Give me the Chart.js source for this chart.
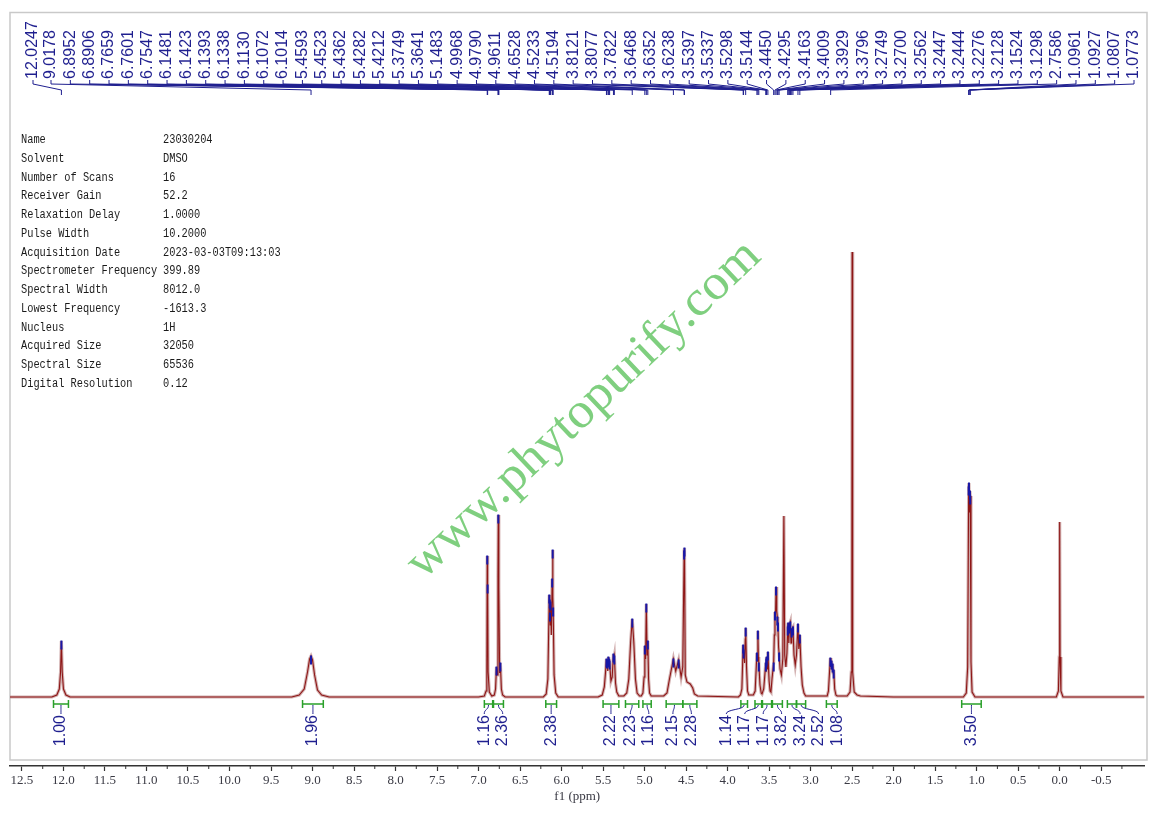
<!DOCTYPE html>
<html><head><meta charset="utf-8">
<script src="https://cdn.jsdelivr.net/npm/chart.js@4.4.1/dist/chart.umd.min.js"></script>
<style>html,body{margin:0;padding:0;background:#fff;overflow:hidden}#wrap{width:1151px;height:813px}</style>
</head><body><div id="wrap"><canvas id="c" width="1151" height="813"></canvas></div>
<script>
// ---------- DATA ----------
// spectrum trace, [ppm, intensity]
const traceLow = [ // 12.64 – 8.8 ppm
 [12.644,0],[12.14,0],[12.08,2],[12.05,8],[12.035,25],[12.025,56],[12.015,25],[12.00,8],[11.97,2],[11.92,0],
 [9.25,0],[9.16,2],[9.10,8],[9.06,25],[9.035,38],[9.018,41],[9.00,37],[8.975,22],[8.94,7],[8.89,2],[8.80,0]
];
const traceArom = [ // 7.0 – 6.0 ppm
 [7.00,0],[6.93,1],[6.91,6],[6.90,30],[6.8952,141],[6.8906,112],[6.885,25],[6.87,5],[6.84,1],
 [6.81,2],[6.795,8],[6.784,30],[6.775,22],[6.766,120],[6.762,182],[6.756,110],[6.746,24],[6.737,34],[6.725,8],[6.71,2],[6.68,0],
 [6.22,0],[6.185,3],[6.165,18],[6.1481,102],[6.1452,88],[6.1423,97],[6.1408,78],[6.1393,84],[6.1365,72],[6.1338,95],[6.123,62],[6.113,118],[6.1072,147],[6.104,100],[6.1014,89],[6.09,22],[6.07,4],[6.04,0]
];
const traceMid = [ // 5.6 – 4.3 ppm
 [5.56,0],[5.51,2],[5.485,10],[5.47,25],[5.4593,38],[5.4558,32],[5.4523,37],[5.444,26],[5.4362,40],[5.432,34],[5.4282,38],[5.4247,33],[5.4212,36],[5.405,16],[5.39,20],[5.3749,43],[5.37,38],[5.3641,41],[5.35,14],[5.335,5],[5.31,1],
 [5.25,1],[5.215,4],[5.19,18],[5.168,55],[5.1483,78],[5.13,55],[5.11,18],[5.09,4],[5.06,1],
 [5.04,1],[5.02,4],[5.006,20],[4.9968,51],[4.988,38],[4.979,93],[4.970,42],[4.9611,56],[4.952,18],[4.94,4],[4.92,1],
 [4.77,1],[4.73,4],[4.70,18],[4.6528,38],[4.625,26],[4.59,37],[4.56,20],[4.54,30],[4.5233,146],[4.5194,149],[4.51,22],[4.49,15],[4.45,13],[4.42,9],[4.40,3],[4.36,1]
];
const traceSugar = [ // 3.9 – 2.6 ppm
 [3.87,0],[3.845,2],[3.828,8],[3.8121,52],[3.8077,47],[3.795,34],[3.787,58],[3.7822,69],[3.772,30],[3.76,6],[3.745,2],
 [3.69,2],[3.668,6],[3.6468,44],[3.641,36],[3.6352,66],[3.629,40],[3.6238,34],[3.61,12],[3.595,4],[3.585,3],
 [3.565,8],[3.5397,34],[3.5367,26],[3.5337,38],[3.5298,40],[3.522,28],[3.5144,45],[3.50,16],[3.488,6],[3.478,5],
 [3.465,18],[3.4450,34],[3.437,62],[3.4295,85],[3.423,80],[3.4163,110],[3.408,86],[3.4009,80],[3.397,68],[3.3929,74],[3.386,50],[3.3796,44],[3.368,28],[3.352,22],[3.335,38],[3.322,181],[3.312,42],[3.298,30],
 [3.285,44],[3.2749,70],[3.2700,74],[3.263,54],[3.2562,72],[3.2447,75],[3.2444,74],[3.236,54],[3.2276,68],[3.2128,70],[3.20,42],[3.185,32],[3.17,42],[3.1524,73],[3.142,48],[3.1298,62],[3.115,30],[3.10,12],[3.08,4],[3.06,1],
 [2.80,1],[2.785,6],[2.772,25],[2.762,39],[2.755,30],[2.748,36],[2.741,28],[2.735,33],[2.728,24],[2.722,27],[2.71,8],[2.695,2],[2.68,1]
];
const traceHigh = [ // 2.6 – -1.02 ppm
 [2.56,1],[2.525,5],[2.51,25],[2.503,120],[2.500,445],[2.497,120],[2.49,25],[2.475,5],[2.44,2],[2.40,1],[2.00,0],
 [1.16,0],[1.125,4],[1.108,30],[1.0961,210],[1.0927,214],[1.0867,185],[1.0807,206],[1.0773,201],[1.068,35],[1.055,5],[1.02,0],
 [0.04,0],[0.015,6],[0.005,40],[0.000,175],[-0.005,40],[-0.015,6],[-0.04,0],[-1.022,0]
];
// picked-peak tips shown in blue, [ppm, intensity]
const peakTips = [
 [12.0247,56],[9.0178,41],[6.8952,141],[6.8906,112],[6.784,30],[6.762,182],[6.737,34],
 [6.1481,102],[6.1423,97],[6.1393,84],[6.1338,95],[6.113,118],[6.1072,147],[6.1014,89],
 [5.4593,38],[5.4523,37],[5.4362,40],[5.4282,38],[5.4212,36],[5.3749,43],[5.3641,41],[5.1483,78],
 [4.9968,51],[4.979,93],[4.9611,56],[4.6528,38],[4.59,37],[4.5233,146],[4.5194,149],
 [3.8121,52],[3.8077,47],[3.7822,69],[3.6468,44],[3.6352,66],[3.6238,34],[3.5397,34],[3.5337,38],[3.5298,40],[3.5144,45],
 [3.445,34],[3.4295,85],[3.4163,110],[3.4009,80],[3.3929,74],[3.3796,44],
 [3.2749,70],[3.27,74],[3.2562,72],[3.2447,75],[3.2276,68],[3.2128,70],[3.1524,73],[3.1298,62],
 [2.762,39],[2.748,36],[2.735,33],[2.722,27],[1.0961,210],[1.0927,214],[1.0807,206],[1.0773,201]
];
// peak labels along the top
const peakLabels = [12.0247,9.0178,6.8952,6.8906,6.7659,6.7601,6.7547,6.1481,6.1423,6.1393,6.1338,6.1130,6.1072,6.1014,
 5.4593,5.4523,5.4362,5.4282,5.4212,5.3749,5.3641,5.1483,4.9968,4.9790,4.9611,4.6528,4.5233,4.5194,
 3.8121,3.8077,3.7822,3.6468,3.6352,3.6238,3.5397,3.5337,3.5298,3.5144,3.4450,3.4295,3.4163,3.4009,3.3929,3.3796,
 3.2749,3.2700,3.2562,3.2447,3.2444,3.2276,3.2128,3.1524,3.1298,2.7586,1.0961,1.0927,1.0807,1.0773];
// integrals: [from ppm, to ppm, value]
const integralFrom = [12.12,9.12,6.93,6.82,6.19,5.50,5.23,5.02,4.74,4.54,3.84,3.67,3.58,3.46,3.28,3.17,2.81,1.18];
const integralTo   = [11.94,8.87,6.83,6.70,6.06,5.31,5.07,4.92,4.54,4.37,3.76,3.59,3.47,3.34,3.17,3.06,2.68,0.945];
const integralVal  = ['1.00','1.96','1.16','2.36','2.38','2.22','2.23','1.16','2.15','2.28','1.14','1.17','1.17','3.82','3.24','2.52','1.08','3.50'];
// x tick labels
const tickValues = [12.5,12.0,11.5,11.0,10.5,10.0,9.5,9.0,8.5,8.0,7.5,7.0,6.5,6.0,5.5,5.0,4.5,4.0,3.5,3.0,2.5,2.0,1.5,1.0,0.5,0.0,-0.5];
// acquisition parameters
const paramNames = ['Name','Solvent','Number of Scans','Receiver Gain','Relaxation Delay','Pulse Width','Acquisition Date','Spectrometer Frequency','Spectral Width','Lowest Frequency','Nucleus','Acquired Size','Spectral Size','Digital Resolution'];
const paramValues = ['23030204','DMSO','16','52.2','1.0000','10.2000','2023-03-03T09:13:03','399.89','8012.0','-1613.3','1H','32050','65536','0.12'];
const watermark = 'www.phytopurify.com';

// ---------- CHART ----------
const spectrum = [].concat(traceLow, traceArom, traceMid, traceSugar, traceHigh).map(p => ({x:p[0], y:p[1]}));
const tips = peakTips.map(p => ({x:p[0], y:p[1] - 4}));

const NAVY = '#1f1f8f';
const decor = {
  id:'decor',
  beforeDatasetsDraw(chart){
    const c = chart.ctx;
    c.save();
    c.strokeStyle = '#c9c9c9'; c.lineWidth = 1.5;
    c.strokeRect(10, 12.5, 1137, 747.5);
    c.fillStyle = '#1a1a1a'; c.textBaseline = 'middle';
    c.font = '12px "Liberation Mono"';
    paramNames.forEach((n,i) => {
      const y = 140 + i*18.75;
      c.save(); c.translate(21, y); c.scale(0.86,1); c.fillText(n, 0, 0); c.restore();
      c.save(); c.translate(163, y); c.scale(0.86,1); c.fillText(paramValues[i], 0, 0); c.restore();
    });
    c.save();
    c.translate(584, 410); c.rotate(-43.5*Math.PI/180);
    c.font = '50px "Liberation Serif"';
    const w = c.measureText(watermark).width;
    c.scale(468/w, 1);
    c.fillStyle = '#7fcf7f'; c.textAlign = 'center'; c.textBaseline = 'middle';
    c.fillText(watermark, 0, 0);
    c.restore();
    c.restore();
  },
  afterDatasetsDraw(chart){
    const c = chart.ctx, xs = chart.scales.x, ys = chart.scales.y;
    const base = ys.getPixelForValue(0);
    c.save();
    c.font = '16px "Liberation Sans"'; c.fillStyle = NAVY; c.strokeStyle = NAVY; c.lineWidth = 1;
    c.textAlign = 'left'; c.textBaseline = 'middle';
    const n = peakLabels.length;
    peakLabels.forEach((v,i) => {
      const xl = i === 0 ? 33 : 51 + (i-1)*(1134-51)/(n-2);
      const xp = xs.getPixelForValue(v);
      c.save(); c.translate(xl, 79); c.rotate(-Math.PI/2); c.fillText(v.toFixed(4), 0, 0); c.restore();
      c.beginPath(); c.moveTo(xl, 80); c.lineTo(xl, 84); c.lineTo(xp, 90); c.lineTo(xp, 95); c.stroke();
    });
    const m = integralVal.length;
    const centers = [];
    for (let i=0;i<m;i++){
      const a = xs.getPixelForValue(integralFrom[i]), b = xs.getPixelForValue(integralTo[i]);
      centers.push((a+b)/2);
      c.strokeStyle = '#2aa02a'; c.lineWidth = 1.5;
      c.beginPath();
      c.moveTo(a, base+7); c.lineTo(b, base+7);
      c.moveTo(a, base+3); c.lineTo(a, base+11);
      c.moveTo(b, base+3); c.lineTo(b, base+11);
      c.stroke();
    }
    const gap = 18.5;
    let groups = centers.map((_,i)=>[i]);
    const layout = g => { const mean = g.reduce((s,k)=>s+centers[k],0)/g.length; return g.map((k,j)=>mean-(g.length-1)*gap/2+j*gap); };
    let changed = true;
    while (changed){
      changed = false;
      for (let i=0;i<groups.length-1;i++){
        const A = layout(groups[i]), B = layout(groups[i+1]);
        if (A[A.length-1] + gap > B[0] + 0.01){ groups.splice(i,2,groups[i].concat(groups[i+1])); changed = true; break; }
      }
    }
    const pos = [];
    groups.forEach(g => { const L = layout(g); g.forEach((k,j)=>pos[k]=L[j]); });
    c.font = '16px "Liberation Sans"'; c.fillStyle = NAVY; c.strokeStyle = NAVY; c.lineWidth = 1;
    c.textAlign = 'right'; c.textBaseline = 'middle';
    for (let i=0;i<m;i++){
      c.beginPath(); c.moveTo(centers[i], base+8);
      c.bezierCurveTo(centers[i], base+13, pos[i], base+12, pos[i], base+17); c.stroke();
      c.save(); c.translate(pos[i], base+18); c.rotate(-Math.PI/2); c.fillText(integralVal[i], 0, 0); c.restore();
    }
    const yb = chart.chartArea.bottom;
    c.strokeStyle = '#333'; c.lineWidth = 1;
    for (let v=-0.75; v<=12.6; v+=0.5){
      const x = xs.getPixelForValue(v);
      c.beginPath(); c.moveTo(x, yb); c.lineTo(x, yb+3); c.stroke();
    }
    c.restore();
  }
};

new Chart(document.getElementById('c'), {
  type:'line',
  data:{datasets:[
    {data:spectrum, borderColor:'rgba(195,150,150,0.75)', borderWidth:3.2, pointRadius:0, tension:0, order:3},
    {data:spectrum, borderColor:'#8e1616', borderWidth:1.1, pointRadius:0, tension:0, order:2},
    {data:tips, showLine:false, pointStyle:'line', pointRotation:90, pointRadius:4.5, pointBorderColor:'#1818a8', pointBorderWidth:2, order:1}
  ]},
  options:{
    responsive:false, animation:false, devicePixelRatio:1,
    layout:{padding:{top:13,left:10,right:4,bottom:0}},
    plugins:{legend:{display:false}, tooltip:{enabled:false}},
    scales:{
      x:{type:'linear', reverse:true, min:-1.022, max:12.644,
        afterBuildTicks:s => { s.ticks = tickValues.slice().reverse().map(v=>({value:v})); },
        afterFit:s => { s.height = 47; s.paddingLeft = 0; s.paddingRight = 0; },
        ticks:{callback:v => Number(v).toFixed(1), font:{family:'Liberation Serif', size:13}, color:'#3a3a44', padding:2, maxRotation:0, autoSkip:false},
        grid:{drawOnChartArea:false, drawTicks:true, tickLength:5, tickColor:'#333', tickWidth:1.2},
        border:{display:true, color:'#333', width:1.6},
        title:{display:true, text:'f1 (ppm)', font:{family:'Liberation Serif', size:13}, color:'#3a3a44', padding:{top:0,bottom:9}}
      },
      y:{display:false, min:-69, max:684}
    }
  },
  plugins:[decor]
});
</script></body></html>
